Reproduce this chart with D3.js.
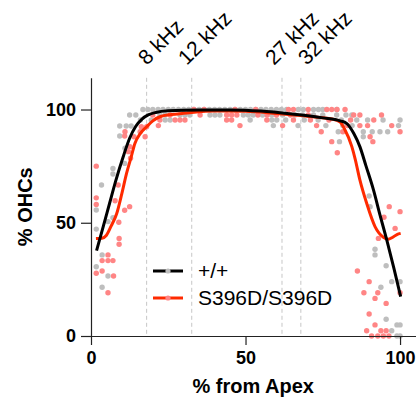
<!DOCTYPE html>
<html>
<head>
<meta charset="utf-8">
<script src="https://cdn.jsdelivr.net/npm/d3@7"></script>
<style>
  body { margin: 0; background: #fff; }
  svg { display: block; font-family: "Liberation Sans", Arial, sans-serif; }
</style>
</head>
<body>
<div id="chart"></div>
<script>
// tick values and labels
const xTicks = [0, 50, 100];
const yTicks = [0, 50, 100];
const freqLabels = ["8 kHz", "12 kHz", "27 kHz", "32 kHz"];
const freqPos = [18, 32.6, 61.8, 67.9];
const seriesNames = ["+/+", "S396D/S396D"];

// individual counts, [% from apex, % OHCs]
const wtPoints = [
  [1.7, 55.6], [1.7, 47.2], [1.7, 30.6], [3.4, 66.7], [3.6, 35.8], [3.6, 21.5],
  [5.5, 26.5], [5.5, 50.5], [7.1, 74], [7.1, 71.5], [7.1, 52.2],
  [9.3, 92.7], [11.4, 92.7], [13, 92.7], [9.3, 88.3], [11, 82.9], [10.9, 76.2],
  [12.5, 97.6], [14.5, 97.6], [16, 95.4],
  [16.8, 100], [18.4, 100], [20, 100], [21.7, 100], [23.3, 100], [25, 100], [26.6, 100],
  [28.3, 100], [30, 100], [31.6, 100], [33.3, 100], [35, 100], [36.6, 100], [38.3, 100],
  [40, 100], [41.6, 100], [43.3, 100], [45, 100], [46.6, 100], [48.3, 100], [50, 100],
  [51.6, 100], [53.3, 100], [55, 100], [56.6, 100], [58.3, 100], [60, 100], [61.6, 100],
  [63.3, 100], [67.1, 100], [68.7, 100], [72, 100], [73.6, 100], [75, 100], [79.5, 100],
  [22.3, 97.6], [24, 97.6], [28.8, 97.6], [30.4, 97.6], [32, 97.6], [38.5, 97.6], [40.1, 97.6],
  [41.7, 97.6], [49.3, 97.6], [50.9, 97.6], [52.5, 97.6], [55.5, 97.6], [58.5, 97.6], [62, 97.6],
  [66, 97.6], [68.5, 97.6], [72, 97.6], [75, 97.6], [79.5, 97.6], [82.5, 97.6], [84.4, 97.6],
  [19.5, 95.4], [24, 95.4], [25.6, 95.4], [51.5, 95.4], [58.5, 95.4], [60.1, 95.4], [63, 95.4],
  [69, 95.4], [73.5, 95.4], [81, 95.4], [86, 95.4], [89.5, 95.4], [94.5, 95.4], [100, 95.4],
  [59, 92.9], [67, 92.9], [76, 92.9], [81.5, 92.9], [84.5, 92.9], [99.5, 92.9],
  [80, 90.2], [88.1, 90.2], [91, 90.2], [93.5, 90.2], [96, 90.2], [88.1, 88], [80.4, 85.8],
  [90, 61.8], [90.3, 57.1], [91.9, 38.3], [91.9, 35.8], [95.5, 31], [97.3, 24], [100, 24],
  [93.8, 21.5], [95.5, 7.4], [99, 4.9], [100, 4.9], [97.3, 2.3], [99, 0], [100, 0]
];

const mutPoints = [
  [1.7, 75], [1.7, 61], [1.7, 58.1], [1.7, 27.7], [3.6, 28.7], [3.6, 33.3],
  [5.5, 35.8], [5.5, 33.3], [5.5, 19.1], [7.1, 33.3], [7.3, 26.5],
  [9, 50.2], [9.1, 43.1], [9.1, 40.5], [7.8, 59.7], [8.8, 66.7], [10.9, 55.5], [12.5, 57.1],
  [12.1, 81.4], [12.6, 83.6], [12.8, 78.5], [11, 90.2], [10.9, 88.3], [13.9, 88], [15.9, 90.2],
  [17.5, 88], [16.3, 92.4], [18, 92.4], [21.8, 92.9],
  [20, 97.6], [25.6, 97.6], [35.3, 97.6], [43.9, 97.6], [45.5, 97.6], [47.2, 97.6], [54, 97.6],
  [57, 97.6], [60, 97.6], [64.5, 97.6], [70.3, 97.6], [85, 97.6], [87, 97.6], [94, 97.6],
  [33.3, 100], [36.6, 100], [46.6, 100], [53.3, 100], [63.9, 100], [65.5, 100], [70.3, 100],
  [76.3, 100], [77.9, 100], [79.6, 100], [82.2, 100],
  [22.3, 95.4], [27.2, 95.4], [28.8, 95.4], [30.4, 95.4], [43.9, 95.4], [45.5, 95.4],
  [56.9, 95.4], [65.5, 95.4], [71, 95.4], [77, 95.4], [84, 95.4], [91.5, 95.4],
  [48.2, 92.9], [62, 92.9], [73, 92.9], [83, 92.9], [87, 92.9], [89.5, 92.9], [97.3, 92.9],
  [74.5, 90.2], [81.5, 90.2], [100, 90.2], [90.3, 88],
  [77.9, 85.8], [79.7, 80.9], [91.2, 85.8],
  [96.5, 57.1], [100, 54.9], [94.8, 52.4], [98.4, 47.5], [93, 43.1],
  [86.2, 28.7], [90, 24], [88.3, 19.1], [92.8, 19.1], [100, 19.1], [91.9, 16.6], [95.5, 14.4],
  [90, 9.7], [91.9, 4.9], [89.2, 2.3], [93.8, 2.3], [95.5, 2.3],
  [90.8, 0], [92.8, 0], [94.6, 0], [96.4, 0]
];

// fitted curves
const wtCurve = [
  [1.8, 37.7], [4, 48.5], [6, 58.5], [8, 68.5], [10.5, 79.5], [12.5, 87.3], [14.5, 92.6],
  [16.5, 95.8], [18.5, 97.6], [21, 98.7], [25, 99.4], [35, 99.8], [45, 99.8], [55, 99.3],
  [65, 98], [75, 96.3], [80.6, 95], [82.7, 93.9], [85, 89.5], [87, 83.6], [89, 75],
  [91.4, 64.5], [93.5, 53.5], [95.7, 42.4], [98, 30], [100.2, 17.4]
];

const mutCurve = [
  [1.6, 43], [3.5, 43.2], [5, 44.5], [6.5, 48.5], [8.3, 54], [10, 63], [11.5, 71.8],
  [13, 79], [14.2, 85], [16, 89.5], [18, 92.4], [20, 95], [22.3, 96.8], [26, 97.8],
  [30, 98.3], [40, 99.3], [50, 99.2], [60, 98.2], [70, 97], [78, 95.8], [80.6, 94.5],
  [82, 91.5], [84.4, 83.6], [85.5, 78], [87, 68.9], [89.2, 58.6], [91.9, 48.3],
  [94.6, 43.6], [96.2, 42.7], [97.5, 43.5], [99, 44.8], [100.2, 45.3]
];

const width = 418, height = 402;
const greyDot = "#bebebe", pinkDot = "#ff8585";
const redLine = "#ff2a00";

const svg = d3.select("#chart").append("svg")
  .attr("width", width).attr("height", height);

const x = d3.scaleLinear().domain([0, 105]).range([91, 415.5]);
const y = d3.scaleLinear().domain([0, 114]).range([336, 77.8]);

// dashed frequency markers
svg.append("g").selectAll("line")
  .data(freqPos)
  .join("line")
  .attr("x1", d => x(d)).attr("x2", d => x(d))
  .attr("y1", y(114)).attr("y2", y(0))
  .attr("stroke", "#c6c6c6")
  .attr("stroke-width", 1)
  .attr("stroke-dasharray", "4,3");

const labelNudge = [0, -5, -8, 6];
svg.append("g").selectAll("text")
  .data(freqLabels)
  .join("text")
  .attr("transform", (d, i) => `translate(${x(freqPos[i]) + labelNudge[i]},66) rotate(-45)`)
  .attr("font-size", 21)
  .attr("fill", "#000")
  .text(d => d);

// points
const dots = svg.append("g");
dots.selectAll(".wt").data(wtPoints).join("circle")
  .attr("class", "wt")
  .attr("cx", d => x(d[0])).attr("cy", d => y(d[1]))
  .attr("r", 2.7).attr("fill", greyDot);
dots.selectAll(".mut").data(mutPoints).join("circle")
  .attr("class", "mut")
  .attr("cx", d => x(d[0])).attr("cy", d => y(d[1]))
  .attr("r", 2.7).attr("fill", pinkDot);

// fitted lines
const line = d3.line().x(d => x(d[0])).y(d => y(d[1])).curve(d3.curveMonotoneX);
svg.append("path").datum(mutCurve)
  .attr("d", line).attr("fill", "none")
  .attr("stroke", redLine).attr("stroke-width", 3);
svg.append("path").datum(wtCurve)
  .attr("d", line).attr("fill", "none")
  .attr("stroke", "#000").attr("stroke-width", 3);

// axes
const xAxis = svg.append("g")
  .attr("transform", `translate(0,${y(0)})`)
  .call(d3.axisBottom(x).tickValues(xTicks).tickSize(9).tickSizeOuter(0).tickPadding(6));
const yAxis = svg.append("g")
  .attr("transform", `translate(${x(0)},0)`)
  .call(d3.axisLeft(y).tickValues(yTicks).tickSize(10).tickSizeOuter(0).tickPadding(5));

[xAxis, yAxis].forEach(a => {
  a.selectAll("path, line").attr("stroke", "#222").attr("stroke-width", 1.2);
  a.selectAll("text")
    .attr("font-family", "'Liberation Sans', Arial, sans-serif")
    .attr("font-size", 18)
    .attr("font-weight", "bold")
    .attr("fill", "#000");
});

svg.append("text")
  .attr("x", (x(0) + x(105)) / 2).attr("y", 393)
  .attr("text-anchor", "middle")
  .attr("font-size", 20).attr("font-weight", "bold")
  .text("% from Apex");

svg.append("text")
  .attr("transform", `translate(32,${y(50) - 16}) rotate(-90)`)
  .attr("text-anchor", "middle")
  .attr("font-size", 20).attr("font-weight", "bold")
  .text("% OHCs");

// legend
const legend = svg.append("g");
const legendRows = [
  { name: seriesNames[0], line: "#000", dot: greyDot },
  { name: seriesNames[1], line: redLine, dot: pinkDot }
];
legendRows.forEach((r, i) => {
  const ly = 271 + i * 27;
  legend.append("line")
    .attr("x1", 153).attr("x2", 183).attr("y1", ly).attr("y2", ly)
    .attr("stroke", r.line).attr("stroke-width", 3);
  legend.append("circle")
    .attr("cx", 168).attr("cy", ly).attr("r", 2.6).attr("fill", r.dot);
  legend.append("text")
    .attr("x", 198).attr("y", ly).attr("dy", "0.35em")
    .attr("font-size", 21)
    .text(r.name);
});
</script>
</body>
</html>
